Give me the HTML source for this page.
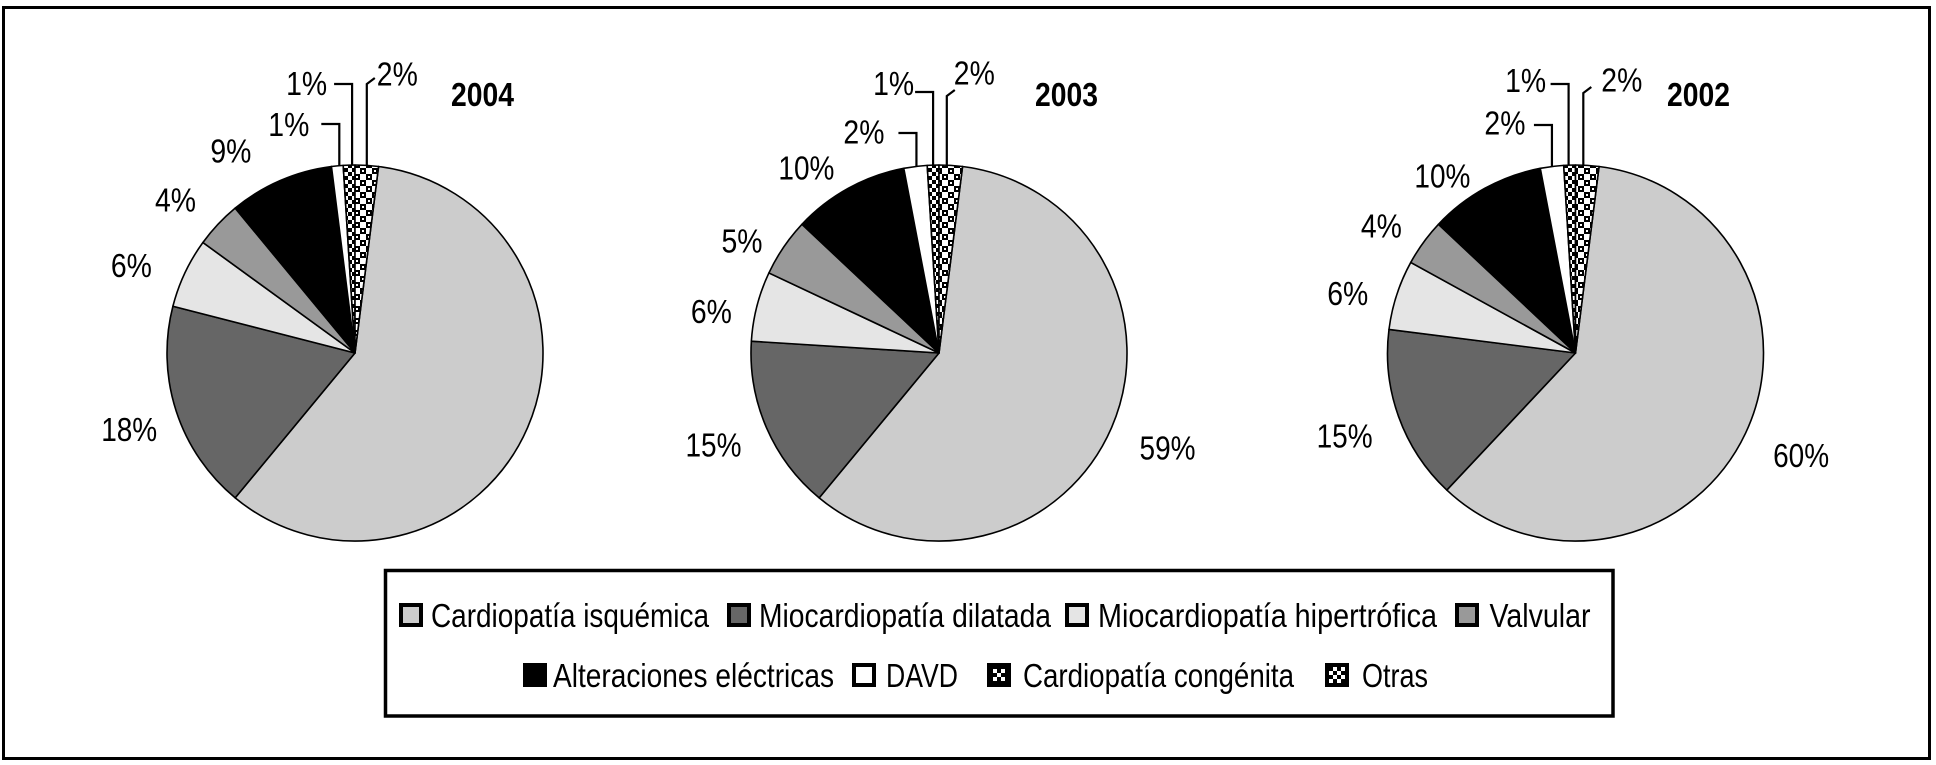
<!DOCTYPE html>
<html lang="es">
<head>
<meta charset="utf-8">
<title>Etiología por año</title>
<style>
html,body{margin:0;padding:0;background:#fff;}
body{width:1936px;height:765px;overflow:hidden;}
svg{display:block;}
text{font-family:"Liberation Sans Narrow","Liberation Sans",sans-serif;font-size:33px;fill:#000;}
.yr{font-family:"Liberation Sans",sans-serif;font-weight:bold;font-size:33px;}
.lg{font-size:33px;}
</style>
</head>
<body>
<svg id="chart" xmlns="http://www.w3.org/2000/svg" width="1936" height="765" viewBox="0 0 1936 765">
  <defs>
    <pattern id="patCong" patternUnits="userSpaceOnUse" width="8" height="8">
      <rect width="8" height="8" fill="#fff"/>
      <rect x="0" y="0" width="4" height="4" fill="#000"/>
      <rect x="4" y="4" width="4" height="4" fill="#000"/>
    </pattern>
    <pattern id="patOtras" patternUnits="userSpaceOnUse" width="12" height="12">
      <rect width="12" height="12" fill="#fff"/>
      <rect x="0" y="0" width="6" height="6" fill="#000"/>
      <rect x="6" y="6" width="6" height="6" fill="#000"/>
      <rect x="2" y="2" width="2" height="2" fill="#fff"/>
      <rect x="8" y="8" width="2" height="2" fill="#fff"/>
    </pattern>
    <pattern id="patSwCong" patternUnits="userSpaceOnUse" x="991" y="667" width="16" height="16">
      <rect width="16" height="16" fill="#000"/>
      <rect x="2" y="2" width="4" height="4" fill="#fff"/>
      <rect x="10" y="2" width="4" height="4" fill="#fff"/>
      <rect x="2" y="10" width="4" height="4" fill="#fff"/>
      <rect x="10" y="10" width="4" height="4" fill="#fff"/>
      <rect x="6" y="6" width="4" height="4" fill="#fff"/>
    </pattern>
    <pattern id="patSwOtras" patternUnits="userSpaceOnUse" x="1329" y="667" width="8" height="8">
      <rect width="8" height="8" fill="#fff"/>
      <rect x="0" y="0" width="4" height="4" fill="#000"/>
      <rect x="4" y="4" width="4" height="4" fill="#000"/>
    </pattern>
  </defs>

  <rect x="3.5" y="7.5" width="1926" height="751" fill="#fff" stroke="#000" stroke-width="3"/>

  <g id="pies"></g>

  <g>
    <rect x="385.5" y="570.5" width="1227.5" height="145.5" fill="#fff" stroke="#000" stroke-width="3.5"/>

    <g>
      <rect x="401" y="605" width="20" height="20" fill="#cccccc" stroke="#000" stroke-width="4"/>
      <text class="lg" x="431" y="627" textLength="278" lengthAdjust="spacingAndGlyphs">Cardiopatía isquémica</text>
    </g>
    <g>
      <rect x="729" y="605" width="20" height="20" fill="#666666" stroke="#000" stroke-width="4"/>
      <text class="lg" x="759" y="627" textLength="292" lengthAdjust="spacingAndGlyphs">Miocardiopatía dilatada</text>
    </g>
    <g>
      <rect x="1067" y="605" width="20" height="20" fill="#e5e5e5" stroke="#000" stroke-width="4"/>
      <text class="lg" x="1098" y="627" textLength="339" lengthAdjust="spacingAndGlyphs">Miocardiopatía hipertrófica</text>
    </g>
    <g>
      <rect x="1457" y="605" width="20" height="20" fill="#999999" stroke="#000" stroke-width="4"/>
      <text class="lg" x="1489.5" y="627" textLength="101" lengthAdjust="spacingAndGlyphs">Valvular</text>
    </g>

    <g>
      <rect x="525" y="665" width="20" height="20" fill="#000" stroke="#000" stroke-width="4"/>
      <text class="lg" x="553" y="687" textLength="281" lengthAdjust="spacingAndGlyphs">Alteraciones eléctricas</text>
    </g>
    <g>
      <rect x="854" y="665" width="20" height="20" fill="#fff" stroke="#000" stroke-width="4"/>
      <text class="lg" x="886" y="687" textLength="72" lengthAdjust="spacingAndGlyphs">DAVD</text>
    </g>
    <g>
      <rect x="989" y="665" width="20" height="20" fill="url(#patSwCong)" stroke="#000" stroke-width="4"/>
      <text class="lg" x="1023" y="687" textLength="271" lengthAdjust="spacingAndGlyphs">Cardiopatía congénita</text>
    </g>
    <g>
      <rect x="1327" y="665" width="20" height="20" fill="url(#patSwOtras)" stroke="#000" stroke-width="4"/>
      <text class="lg" x="1362" y="687" textLength="66" lengthAdjust="spacingAndGlyphs">Otras</text>
    </g>
  </g>
</svg>

<script>
// Data: share of each cause per year (%)
const categories = ["cardiopatia-isquemica","miocardiopatia-dilatada","miocardiopatia-hipertrofica","valvular","alteraciones-electricas","davd","cardiopatia-congenita","otras"];
const years = ["2004","2003","2002"];
const values2004 = [59,18,6,4,9,1,1,2];
const values2003 = [59,15,6,5,10,2,1,2];
const values2002 = [60,15,6,4,10,2,1,2];
const seriesByYear = [values2004,values2003,values2002];
// The 2004 chart prints no label on its largest slice
const hiddenLabels2004 = ["cardiopatia-isquemica"];
const hiddenLabels2003 = [];
const hiddenLabels2002 = [];
const hiddenLabelsByYear = [hiddenLabels2004,hiddenLabels2003,hiddenLabels2002];

// Styling and layout (not data)
const sliceFills = ["#cccccc","#666666","#e5e5e5","#999999","#000000","#ffffff","url(#patCong)","url(#patOtras)"];
const pieLayouts = [
  {cx:355, cy:353, r:188, titleX:451,  titleY:106,
   labelDx:[0,-75,-74,-63,-70,-69,-63,10], labelDy:[0,30,4,-13,-18,-30,-70,-80],
   leaderTop:[124,84,84], leaderAdj:[2,3,0]},
  {cx:939, cy:353, r:188, titleX:1035, titleY:106,
   labelDx:[28,-81,-66,-62,-70,-72,-60,3], labelDy:[32,29,17,5,-9,-23,-70,-81],
   leaderTop:[133,92,96], leaderAdj:[1,0,-4]},
  {cx:1575.5, cy:353, r:188, titleX:1667, titleY:106,
   labelDx:[27.5,-82,-69.5,-62.5,-70.5,-67.5,-64.5,14], labelDy:[34,31,10,-5,-1,-32,-73,-74],
   leaderTop:[125,84,93], leaderAdj:[0,-1,-4]}
];
const startAngle = 7.2;
const NS = "http://www.w3.org/2000/svg";
const root = document.getElementById("pies");

function make(tag, attrs, parent){
  const el = document.createElementNS(NS, tag);
  for (const k in attrs) el.setAttribute(k, attrs[k]);
  parent.appendChild(el);
  return el;
}
// Axis functions: value -> clockwise angle from 12 o'clock, angle -> point on pie
function angleScale(cum, total){ return startAngle + cum / total * 360; }
function polar(p, deg, rad){
  const a = deg * Math.PI / 180;
  return [p.cx + rad * Math.sin(a), p.cy - rad * Math.cos(a)];
}
function slicePath(p, a0, a1){
  const s = polar(p, a0, p.r), e = polar(p, a1, p.r);
  const large = (a1 - a0) > 180 ? 1 : 0;
  return "M" + p.cx + " " + p.cy + "L" + s[0] + " " + s[1] + "A" + p.r + " " + p.r + " 0 " + large + " 1 " + e[0] + " " + e[1] + "Z";
}

years.forEach(function(year, yi){
  const p = pieLayouts[yi];
  const vals = seriesByYear[yi];
  const hidden = hiddenLabelsByYear[yi];
  const total = vals.reduce(function(a,b){return a+b;},0);

  const g = make("g", {}, root);
  
  

  let cum = 0;
  vals.forEach(function(v, i){
    const a0 = angleScale(cum, total);
    const a1 = angleScale(cum + v, total);
    cum += v;
    const mid = (a0 + a1) / 2;

    const slice = make("path", {d:slicePath(p,a0,a1), fill:sliceFills[i], stroke:"#000", "stroke-width":"1.6", "stroke-linejoin":"round"}, g);
    
    

    const rim = polar(p, mid, p.r);

    if (hidden.indexOf(categories[i]) < 0) {
      const str = v + "%";
      const label = make("text", {x:rim[0] + p.labelDx[i], y:rim[1] + p.labelDy[i], textLength:str.length === 2 ? 41 : 56, lengthAdjust:"spacingAndGlyphs"}, g);
      label.textContent = str;
      
      
    }

    // Leader lines for the three thin top slices
    if (i >= 5) {
      const k = i - 5;
      const x = rim[0] + p.leaderAdj[k];
      const top = p.leaderTop[k];
      const d = k < 2
        ? "M" + x + " " + rim[1] + "V" + top + "H" + (x - 18)
        : "M" + x + " " + rim[1] + "V" + top + "L" + (x + 8) + " " + (top - 6);
      const line = make("path", {d:d, fill:"none", stroke:"#000", "stroke-width":"2.2"}, g);
      
      
    }
  });

  const title = make("text", {"class":"yr", x:p.titleX, y:p.titleY, textLength:63, lengthAdjust:"spacingAndGlyphs"}, g);
  title.textContent = year;
  
  
});
</script>
</body>
</html>
